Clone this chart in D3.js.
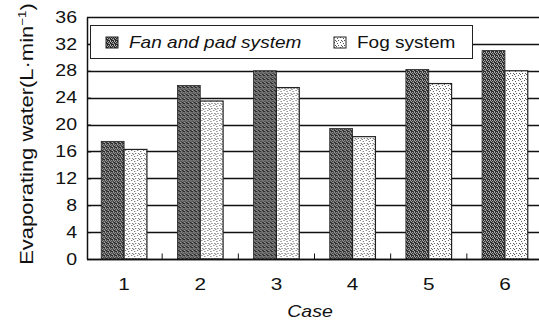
<!DOCTYPE html>
<html>
<head>
<meta charset="utf-8">
<script src="https://cdn.jsdelivr.net/npm/d3@7"></script>
<style>
  body { margin: 0; background: #fff; }
  svg { display: block; }
  text { font-family: "Liberation Sans", Arial, sans-serif; fill: #111; }
</style>
</head>
<body>
<script>
// data
const cases = ["1", "2", "3", "4", "5", "6"];
const fanPad = [17.5, 25.8, 28.0, 19.4, 28.2, 31.0];
const fogSys = [16.3, 23.5, 25.5, 18.2, 26.1, 28.0];
const yTicks = [0, 4, 8, 12, 16, 20, 24, 28, 32, 36];
const seriesNames = ["Fan and pad system", "Fog system"];

const width = 539, height = 323;
const margin = {top: 17, right: 0, bottom: 64, left: 87};
const stretch = 1.22; // the scanned lettering is wide

const data = cases.map((c, i) => ({c: c, fan: fanPad[i], fog: fogSys[i]}));

const svg = d3.select("body").append("svg")
    .attr("width", width)
    .attr("height", height);

// fill patterns: dark crosshatch and light dots
const defs = svg.append("defs");
const pFan = defs.append("pattern")
    .attr("id", "fan").attr("patternUnits", "userSpaceOnUse")
    .attr("width", 4).attr("height", 4);
pFan.append("rect").attr("width", 4).attr("height", 4).attr("fill", "#2a2a2a");
pFan.append("path").attr("d", "M0,0h1v1h-1z M2,0h1v1h-1z M1,1h1v1h-1z M3,2h1v1h-1z M0,3h1v1h-1z").attr("fill", "#b4b4b4");
pFan.append("path").attr("d", "M2,2h1v1h-1z M3,1h1v1h-1z").attr("fill", "#777");

const pFog = defs.append("pattern")
    .attr("id", "fog").attr("patternUnits", "userSpaceOnUse")
    .attr("width", 6).attr("height", 5);
pFog.append("rect").attr("width", 6).attr("height", 5).attr("fill", "#fff");
pFog.append("path").attr("d", "M0,0h1v1h-1z M3,1h1v1h-1z M1,3h1v1h-1z M4,3h1v1h-1z M2,4h1v1h-1z").attr("fill", "#555");

const x0 = d3.scaleBand()
    .domain(cases)
    .range([86, 543])
    .paddingInner(0.4)
    .paddingOuter(0.2);

const x1 = d3.scaleBand()
    .domain(["fan", "fog"])
    .range([0, x0.bandwidth()]);

const y = d3.scaleLinear()
    .domain([0, 36])
    .range([259, margin.top]);

// gridlines
svg.append("g")
    .attr("stroke", "#111").attr("stroke-width", 1.3)
  .selectAll("line")
  .data(yTicks)
  .join("line")
    .attr("x1", margin.left).attr("x2", width)
    .attr("y1", d => Math.round(y(d)) + 0.5)
    .attr("y2", d => Math.round(y(d)) + 0.5);

// bars
const grp = svg.append("g")
  .selectAll("g")
  .data(data)
  .join("g")
    .attr("transform", d => `translate(${x0(d.c)},0)`);

grp.append("rect")
    .attr("x", x1("fan"))
    .attr("y", d => y(d.fan))
    .attr("width", x1.bandwidth())
    .attr("height", d => y(0) - y(d.fan))
    .attr("fill", "url(#fan)")
    .attr("stroke", "#222").attr("stroke-width", 0.8);

grp.append("rect")
    .attr("x", x1("fog"))
    .attr("y", d => y(d.fog))
    .attr("width", x1.bandwidth())
    .attr("height", d => y(0) - y(d.fog))
    .attr("fill", "url(#fog)")
    .attr("stroke", "#222").attr("stroke-width", 1.2);

// y axis
const yAxis = svg.append("g")
    .attr("transform", `translate(${margin.left},0)`)
    .call(d3.axisLeft(y).tickValues(yTicks).tickSize(-4).tickPadding(0).tickSizeOuter(0));
yAxis.select(".domain").attr("stroke", "#111").attr("stroke-width", 1.5);
yAxis.selectAll(".tick line").attr("stroke", "#111");
yAxis.selectAll(".tick text")
    .attr("x", -10 / stretch)
    .attr("transform", `scale(${stretch},1)`)
    .style("font-size", "16px")
    .attr("fill", "#111");

// x axis: baseline with small upward ticks between cases
const base = Math.round(y(0)) + 0.5;
svg.append("line")
    .attr("x1", margin.left).attr("x2", width)
    .attr("y1", base).attr("y2", base)
    .attr("stroke", "#111").attr("stroke-width", 1.5);
svg.append("g")
  .selectAll("line")
  .data(cases.slice(1))
  .join("line")
    .attr("x1", d => x0(d) - x0.step() * x0.paddingInner() / 2)
    .attr("x2", d => x0(d) - x0.step() * x0.paddingInner() / 2)
    .attr("y1", base).attr("y2", base - 6)
    .attr("stroke", "#111");

svg.append("g")
  .selectAll("text")
  .data(cases)
  .join("text")
    .attr("transform", d => `translate(${x0(d) + x0.bandwidth() / 2},${base + 30}) scale(${stretch},1)`)
    .attr("text-anchor", "middle")
    .style("font-size", "17px")
    .text(d => d);

// axis titles
svg.append("text")
    .attr("transform", `translate(310,317) scale(${stretch},1)`)
    .attr("text-anchor", "middle")
    .style("font-size", "16px")
    .style("font-style", "italic")
    .text("Case");

const yl = svg.append("text")
    .attr("transform", `translate(33,134) rotate(-90) scale(${stretch},1)`)
    .attr("text-anchor", "middle")
    .style("font-size", "18px");
yl.append("tspan").text("Evaporating water(L\u00b7min");
yl.append("tspan").attr("dy", -7).style("font-size", "11px").text("\u22121");
yl.append("tspan").attr("dy", 7).text(")");

// legend
const legend = svg.append("g");
legend.append("rect")
    .attr("x", 90.5).attr("y", 25.5)
    .attr("width", 382).attr("height", 33)
    .attr("fill", "#fff")
    .attr("stroke", "#222").attr("stroke-width", 1);

const legX = [106, 334];
const legItems = legend.selectAll("g.item")
  .data(seriesNames)
  .join("g")
    .attr("class", "item")
    .attr("transform", (d, i) => `translate(${legX[i]},37)`);

legItems.append("rect")
    .attr("width", 12).attr("height", 11)
    .attr("fill", (d, i) => i === 0 ? "url(#fan)" : "url(#fog)")
    .attr("stroke", "#222").attr("stroke-width", 1);

legItems.append("text")
    .attr("transform", `translate(23,11) scale(1.12,1)`)
    .style("font-size", "17px")
    .style("font-style", (d, i) => i === 0 ? "italic" : "normal")
    .text(d => d);
</script>
</body>
</html>
